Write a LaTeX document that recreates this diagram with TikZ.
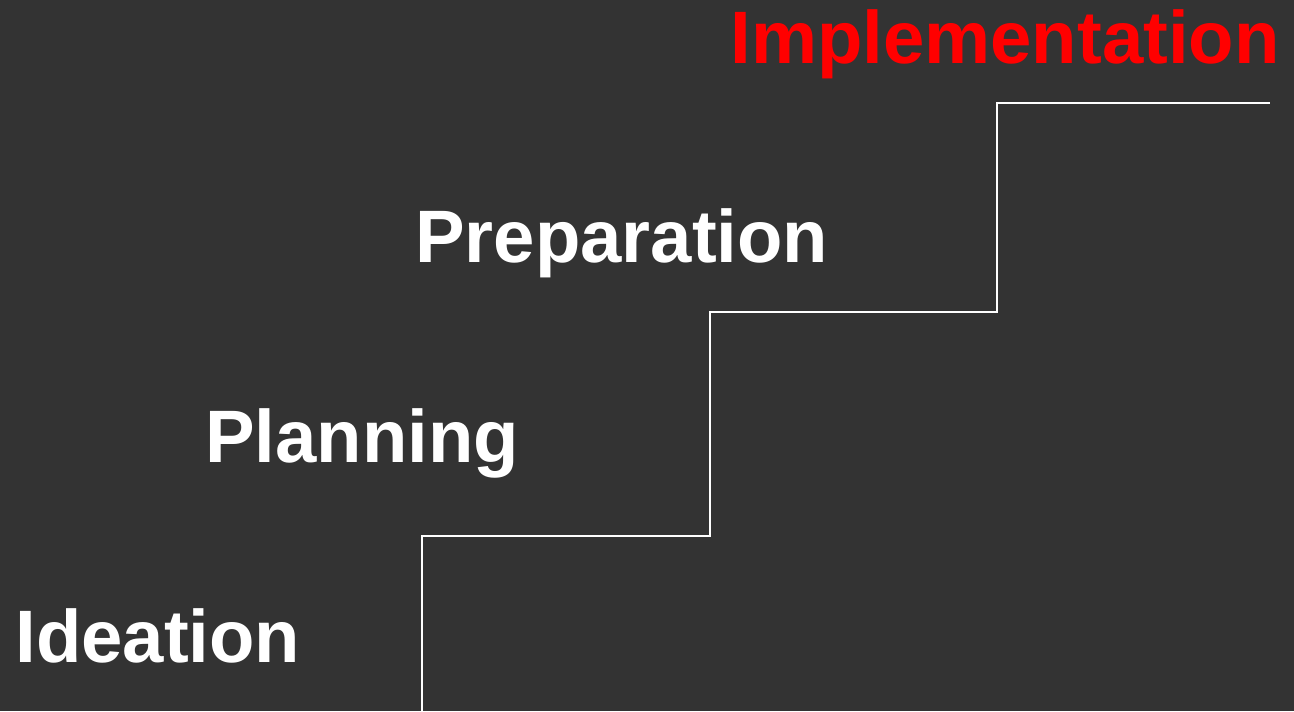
\documentclass[tikz,border=0pt]{standalone}
\usepackage{fontspec}
\setmainfont{Liberation Sans}
\definecolor{bgdark}{HTML}{333333}
\definecolor{stepred}{HTML}{FF0000}
\tikzset{
	phase/.style={anchor=base west, inner sep=0pt, text=white, font=\fontsize{42.3}{50}\selectfont\bfseries},
	stair/.style={draw=white, line width=1.1pt}
}
\begin{document}
\begin{tikzpicture}[x=0.02cm, y=-0.02cm]
		% Background
			\fill [bgdark] (0,0) rectangle (1294,711);
			\useasboundingbox (0,0) rectangle (1294,711);
		% Stairs
			\coordinate (s0) at (422,711);
			\coordinate (s1) at (422,536);
			\coordinate (s2) at (710,536);
			\coordinate (s3) at (710,312);
			\coordinate (s4) at (997,312);
			\coordinate (s5) at (997,103);
			\coordinate (s6) at (1270,103);
			\draw [stair] (s0) -- (s1) -- (s2) -- (s3) -- (s4) -- (s5) -- (s6);
		% Phases
			\node [phase] (ideation) at (15,662) {Ideation};
			\node [phase] (planning) at (205,462) {Planning};
			\node [phase] (preparation) at (415,262) {Preparation};
			\node [phase, text=stepred] (implementation) at (730,63) {Implementation};
		\end{tikzpicture}
\end{document}
